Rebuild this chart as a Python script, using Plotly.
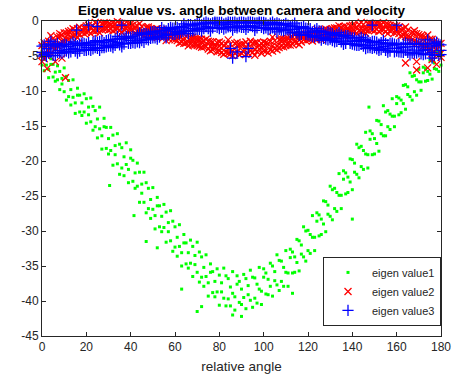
import plotly.graph_objects as go

# x tick labels (relative angle, degrees) and y tick labels (eigen value)
x_ticks = [0, 20, 40, 60, 80, 100, 120, 140, 160, 180]
y_ticks = [-45, -40, -35, -30, -25, -20, -15, -10, -5, 0]

# eigen value1: angle -> eigen values sampled at that angle
eig1_cols = [
    (0, [-4.5, -6.3]), (1, [-7.1, -5.5]), (2, [-4.5, -6.3]), (3, [-6.9, -8.1]),
    (4, [-6.2, -5.4]), (5, [-8.0, -6.2]), (6, [-7.3, -8.6]), (7, [-6.4, -8.4]),
    (8, [-9.8, -7.2]), (9, [-8.2, -9.0]), (10, [-10.1, -6.7]), (11, [-7.9, -11.3]),
    (12, [-8.5, -10.8]), (13, [-12.0, -9.8]), (14, [-8.4, -10.9]), (15, [-11.7, -13.2]),
    (16, [-10.6, -9.6]), (17, [-13.0, -10.6]), (18, [-11.7, -13.5]), (19, [-10.4, -13.0]),
    (20, [-14.6, -11.1]), (21, [-12.3, -13.4]), (22, [-14.4, -11.0]), (23, [-12.2, -15.6]),
    (24, [-12.8, -15.1]), (25, [-16.7, -14.0]), (26, [-12.3, -15.4]), (27, [-16.4, -18.3]),
    (28, [-15.1, -13.9]), (29, [-18.2, -15.2]), (30, [-16.8, -19.0]), (31, [-15.2, -18.5]),
    (32, [-20.6, -16.3]), (33, [-17.8, -19.1]), (34, [-20.4, -16.1]), (35, [-17.6, -21.9]),
    (36, [-18.1, -21.0]), (37, [-22.1, -19.4]), (38, [-17.4, -20.5]), (39, [-21.2, -23.1]),
    (40, [-19.6, -18.4]), (41, [-22.9, -19.9]), (42, [-21.7, -23.9]), (43, [-20.3, -23.6]),
    (44, [-25.9, -21.6]), (45, [-23.3, -24.6]), (46, [-25.9, -21.6]), (47, [-23.1, -27.4]),
    (48, [-23.9, -26.8]), (49, [-28.2, -25.5]), (50, [-23.8, -26.9]), (51, [-27.8, -29.7]),
    (52, [-26.4, -25.2]), (53, [-29.4, -26.4]), (54, [-27.9, -30.1]), (55, [-26.2, -29.5]),
    (56, [-31.6, -27.3]), (57, [-28.8, -30.1]), (58, [-31.4, -27.1]), (59, [-28.6, -32.9]),
    (60, [-29.4, -32.3]), (61, [-33.6, -30.9]), (62, [-29.1, -32.2]), (63, [-33.1, -35.0]),
    (64, [-31.7, -30.5]), (65, [-34.7, -31.7]), (66, [-33.1, -35.3]), (67, [-31.3, -34.6]),
    (68, [-36.5, -32.2]), (69, [-33.5, -34.8]), (70, [-35.9, -31.6]), (71, [-33.0, -37.3]),
    (72, [-33.7, -36.6]), (73, [-37.9, -35.2]), (74, [-33.4, -36.5]), (75, [-37.4, -39.3]),
    (76, [-35.9, -34.7]), (77, [-38.8, -35.8]), (78, [-37.2, -39.4]), (79, [-35.4, -38.7]),
    (80, [-40.6, -36.3]), (81, [-37.4, -38.7]), (82, [-39.6, -35.3]), (83, [-36.4, -40.7]),
    (84, [-36.8, -39.7]), (85, [-40.7, -38.0]), (86, [-35.8, -38.9]), (87, [-39.4, -41.3]),
    (88, [-37.6, -36.4]), (89, [-40.2, -37.2]), (90, [-38.3, -40.5]), (91, [-36.2, -39.5]),
    (92, [-41.1, -36.8]), (93, [-37.8, -39.1]), (94, [-39.9, -35.6]), (95, [-36.6, -40.9]),
    (96, [-36.7, -39.6]), (97, [-40.3, -37.6]), (98, [-35.2, -38.3]), (99, [-38.6, -40.5]),
    (100, [-36.6, -35.4]), (101, [-39.0, -36.0]), (102, [-36.9, -39.1]), (103, [-34.6, -37.9]),
    (104, [-39.3, -35.0]), (105, [-35.8, -37.1]), (106, [-37.7, -33.4]), (107, [-34.2, -38.5]),
    (108, [-34.3, -37.2]), (109, [-37.9, -35.2]), (110, [-32.8, -35.9]), (111, [-36.0, -37.9]),
    (112, [-33.8, -32.6]), (113, [-36.0, -33.0]), (114, [-33.7, -35.9]), (115, [-31.2, -34.5]),
    (116, [-35.7, -31.4]), (117, [-32.0, -33.3]), (118, [-33.7, -29.4]), (119, [-30.0, -34.3]),
    (120, [-29.9, -32.8]), (121, [-33.2, -30.5]), (122, [-27.8, -30.9]), (123, [-30.9, -32.8]),
    (124, [-28.6, -27.4]), (125, [-30.7, -27.7]), (126, [-28.3, -30.5]), (127, [-25.7, -29.0]),
    (128, [-30.1, -25.8]), (129, [-26.3, -27.6]), (130, [-27.9, -23.6]), (131, [-24.1, -28.4]),
    (132, [-23.9, -26.8]), (133, [-27.2, -24.5]), (134, [-21.8, -24.9]), (135, [-24.9, -26.8]),
    (136, [-22.6, -21.4]), (137, [-24.7, -21.7]), (138, [-22.3, -24.5]), (139, [-19.7, -23.0]),
    (140, [-24.1, -19.8]), (141, [-20.3, -21.6]), (142, [-21.9, -17.6]), (143, [-18.1, -22.4]),
    (144, [-17.9, -20.8]), (145, [-21.2, -18.5]), (146, [-15.9, -19.0]), (147, [-19.1, -21.0]),
    (148, [-16.9, -15.7]), (149, [-19.1, -16.1]), (150, [-16.8, -19.0]), (151, [-14.2, -17.5]),
    (152, [-18.6, -14.3]), (153, [-14.8, -16.1]), (154, [-16.4, -12.1]), (155, [-13.0, -16.4]),
    (156, [-12.8, -15.1]), (157, [-15.5, -13.3]), (158, [-11.1, -13.6]), (159, [-13.6, -15.1]),
    (160, [-11.8, -10.8]), (161, [-13.4, -11.0]), (162, [-11.3, -13.1]), (163, [-9.2, -11.8]),
    (164, [-12.6, -9.1]), (165, [-9.4, -10.5]), (166, [-10.8, -7.4]), (167, [-7.9, -11.3]),
    (168, [-7.8, -10.1]), (169, [-10.6, -8.4]), (170, [-6.9, -8.7]), (171, [-8.7, -9.9]),
    (172, [-7.4, -6.6]), (173, [-8.6, -6.8]), (174, [-7.2, -8.5]), (175, [-5.6, -7.6]),
    (176, [-8.3, -5.7]), (177, [-6.0, -6.8]), (178, [-6.9, -4.4]), (179, [-4.7, -7.2]),
    (180, [-4.5, -6.3]),
    (30.5, [-23.5]), (41.5, [-27.8]), (47, [-31.5]), (52, [-32.4]), (63, [-38.3]),
    (70, [-41.5]), (72, [-40.8]), (86, [-42.0]), (90, [-42.2]), (113, [-38.9]),
    (140, [-28.3]), (147.5, [-12.3]),
]

# eigen value2
eig2_cols = [
    (0, [-3.5, -4.9, -5.8]), (2, [-4.9, -3.5]), (4, [-2.1, -3.6, -4.6]), (6, [-3.4, -4.0]),
    (8, [-2.2, -1.8, -3.3]), (10, [-2.9, -1.7]), (12, [-1.9, -2.6, -1.5]), (14, [-1.1, -2.1]),
    (16, [-2.4, -1.1, -1.8]), (18, [-1.2, -1.6]), (20, [-0.7, -1.6, -1.1]), (22, [-1.8, -0.9]),
    (24, [-0.2, -1.1, -1.5]), (26, [-1.2, -1.7]), (28, [-0.55, -0.25, -1.1]), (30, [-1.3, -0.4]),
    (32, [-0.7, -1.4, -0.3]), (34, [-0.1, -1.1]), (36, [-1.65, -0.35, -0.9]), (38, [-0.7, -1.1]),
    (40, [-0.4, -1.3, -0.8]), (42, [-1.7, -0.8]), (44, [-0.35, -1.25, -1.7]), (46, [-1.6, -2.1]),
    (48, [-1.15, -0.85, -1.8]), (50, [-2.1, -1.2]), (52, [-1.65, -2.35, -1.1]), (54, [-1.2, -2.2]),
    (56, [-2.8, -1.5, -2.2]), (58, [-1.95, -2.35]), (60, [-1.8, -2.7, -2.2]), (62, [-3.15, -2.25]),
    (64, [-1.8, -2.7, -3.2]), (66, [-3.05, -3.55]), (68, [-2.6, -2.3, -3.4]), (70, [-3.5, -2.6]),
    (72, [-3.05, -3.75, -2.6]), (74, [-2.6, -3.6]), (76, [-4.25, -2.95, -3.6]), (78, [-3.4, -3.8]),
    (80, [-3.0, -4.3, -3.6]), (82, [-4.75, -3.5]), (84, [-2.7, -3.95, -4.6]), (86, [-4.25, -4.95]),
    (88, [-3.5, -3.05, -4.4]), (90, [-4.6, -3.35]), (92, [-3.75, -4.75, -3.0]), (94, [-2.9, -4.3]),
    (96, [-4.9, -3.1, -4.0]), (98, [-3.5, -4.0]), (100, [-3.0, -4.25, -3.6]), (102, [-4.55, -3.25]),
    (104, [-2.3, -3.55, -4.3]), (106, [-3.6, -4.1]), (108, [-2.85, -2.55, -3.6]), (110, [-3.5, -2.6]),
    (112, [-2.75, -3.45, -2.3]), (114, [-2.0, -3.0]), (116, [-3.4, -2.1, -2.7]), (118, [-2.25, -2.65]),
    (120, [-1.8, -2.7, -2.2]), (122, [-2.85, -1.95]), (124, [-1.2, -2.1, -2.6]), (126, [-2.15, -2.65]),
    (128, [-1.45, -1.15, -2.1]), (130, [-2.1, -1.2]), (132, [-1.4, -2.1, -1.0]), (134, [-0.7, -1.7]),
    (136, [-2.1, -0.8, -1.4]), (138, [-1.0, -1.4]), (140, [-0.6, -1.5, -1.0]), (142, [-1.75, -0.85]),
    (144, [-0.2, -1.1, -1.5]), (146, [-1.25, -1.75]), (148, [-0.6, -0.3, -1.2]), (150, [-1.4, -0.5]),
    (152, [-0.8, -1.5, -0.4]), (154, [-0.25, -1.25]), (156, [-1.8, -0.5, -1.2]), (158, [-0.9, -1.3]),
    (160, [-0.7, -1.6, -1.2]), (162, [-2.1, -1.2]), (164, [-0.85, -1.75, -2.2]), (166, [-2.3, -2.95]),
    (168, [-1.8, -1.4, -2.8]), (170, [-3.15, -1.95]), (172, [-2.65, -3.6, -2.2]), (174, [-2.0, -3.6]),
    (176, [-4.7, -2.6, -3.6]), (178, [-3.4, -4.0]), (180, [-3.2, -4.6, -5.2]),
    (1, [-3.1, -4.6]), (3, [-4.2, -2.9]), (5, [-3.6, -2.5]), (7, [-2.3, -3.5]),
    (9, [-2.9, -2.0]), (11, [-1.7, -2.6]), (13, [-2.3, -1.4]), (15, [-1.3, -2.0]),
    (17, [-1.9, -0.9]), (19, [-1.0, -1.8]), (21, [-1.5, -0.6]), (23, [-0.7, -1.4]),
    (25, [-1.3, -0.5]), (27, [-0.4, -1.2]), (29, [-1.1, -0.3]), (31, [-0.5, -1.2]),
    (33, [-1.2, -0.4]), (35, [-0.3, -1.3]), (37, [-1.2, -0.5]), (39, [-0.4, -1.4]),
    (41, [-1.3, -0.6]), (43, [-0.7, -1.5]), (45, [-1.6, -0.8]), (47, [-0.9, -1.8]),
    (49, [-1.9, -1.1]), (51, [-1.2, -2.1]), (53, [-2.2, -1.4]), (55, [-1.5, -2.3]),
    (57, [-2.5, -1.6]), (59, [-1.8, -2.6]), (61, [-2.8, -1.9]), (63, [-2.0, -3.0]),
    (65, [-3.1, -2.2]), (67, [-2.4, -3.3]), (69, [-3.4, -2.5]), (71, [-2.6, -3.6]),
    (73, [-3.7, -2.8]), (75, [-2.9, -4.0]), (77, [-4.1, -3.0]), (79, [-3.1, -4.4]),
    (81, [-4.5, -3.2]), (83, [-3.3, -4.5]), (85, [-4.7, -3.3]), (87, [-3.2, -4.6]),
    (89, [-4.8, -3.4]), (91, [-3.3, -4.4]), (93, [-4.6, -3.4]), (95, [-3.2, -4.5]),
    (97, [-4.4, -3.1]), (99, [-3.2, -4.6]), (101, [-4.3, -3.1]), (103, [-2.9, -4.1]),
    (105, [-3.9, -2.8]), (107, [-2.7, -3.8]), (109, [-3.7, -2.6]), (111, [-2.5, -3.4]),
    (113, [-3.3, -2.3]), (115, [-2.2, -3.1]), (117, [-3.0, -2.1]), (119, [-1.9, -2.8]),
    (121, [-2.6, -1.8]), (123, [-1.6, -2.5]), (125, [-2.4, -1.5]), (127, [-1.3, -2.2]),
    (129, [-2.1, -1.3]), (131, [-1.1, -1.9]), (133, [-1.8, -1.0]), (135, [-0.9, -1.8]),
    (137, [-1.7, -0.8]), (139, [-0.7, -1.6]), (141, [-1.5, -0.6]), (143, [-0.5, -1.4]),
    (145, [-1.4, -0.5]), (147, [-0.4, -1.3]), (149, [-1.3, -0.4]), (151, [-0.4, -1.2]),
    (153, [-1.3, -0.5]), (155, [-0.5, -1.5]), (157, [-1.4, -0.6]), (159, [-0.7, -1.7]),
    (161, [-1.8, -0.9]), (163, [-1.1, -2.0]), (165, [-2.3, -1.3]), (167, [-1.6, -2.7]),
    (169, [-3.0, -1.8]), (171, [-2.1, -3.4]), (173, [-3.6, -2.3]), (175, [-2.6, -4.1]),
    (177, [-4.4, -2.9]), (179, [-3.2, -4.9]),
    (2.3, [-6.8]), (6, [-5.8]), (9, [-5.3]), (10.6, [-8.1]), (1, [-5.4]),
    (164, [-6.0]), (169, [-5.8, -7.0]), (174, [-6.7]), (178, [-6.2]), (176, [-5.5]),
]

# eigen value3
eig3_cols = [
    (0, [-5.0, -3.6, -4.5]), (2, [-3.95, -5.05]), (4, [-2.9, -4.5, -3.6]), (6, [-4.95, -3.4]),
    (8, [-3.7, -4.2, -4.6]), (10, [-3.3, -4.4]), (12, [-4.55, -3.65, -4.1]), (14, [-3.0, -3.9]),
    (16, [-4.1, -4.6, -3.5]), (18, [-3.45, -3.15]), (20, [-4.2, -3.3, -3.8]), (22, [-3.5, -4.2]),
    (24, [-2.8, -3.8, -3.3]), (26, [-4.2, -2.9]), (28, [-3.1, -3.5, -3.8]), (30, [-2.7, -3.6]),
    (32, [-3.8, -2.9, -3.3]), (34, [-2.2, -3.1]), (36, [-3.2, -3.7, -2.6]), (38, [-2.5, -2.2]),
    (40, [-3.2, -2.3, -2.8]), (42, [-2.45, -3.15]), (44, [-1.7, -2.7, -3.1]), (46, [-3.05, -1.75]),
    (48, [-1.9, -2.3, -2.7]), (50, [-1.5, -2.4]), (52, [-2.6, -1.7, -2.2]), (54, [-0.95, -1.85]),
    (56, [-1.9, -2.4, -1.4]), (58, [-1.2, -0.9]), (60, [-1.9, -1.0, -1.5]), (62, [-1.15, -1.85]),
    (64, [-0.4, -1.4, -0.9]), (66, [-1.8, -0.5]), (68, [-0.7, -1.1, -1.4]), (70, [-0.3, -1.2]),
    (72, [-1.45, -0.55, -1.0]), (74, [-0.15, -0.8]), (76, [-0.95, -1.45, -0.4]), (78, [-0.3, -0.15]),
    (80, [-1.1, -0.2, -0.6]), (82, [-0.45, -1.15]), (84, [-0.15, -0.85, -0.5]), (86, [-1.3, -0.2]),
    (88, [-0.3, -0.7, -1.0]), (90, [-0.15, -0.9]), (92, [-1.2, -0.3, -0.7]), (94, [-0.15, -0.65]),
    (96, [-0.85, -1.35, -0.3]), (98, [-0.3, -0.15]), (100, [-1.1, -0.2, -0.6]), (102, [-0.55, -1.25]),
    (104, [-0.15, -1.0, -0.5]), (106, [-1.55, -0.25]), (108, [-0.6, -1.0, -1.3]), (110, [-0.35, -1.25]),
    (112, [-1.7, -0.8, -1.2]), (114, [-0.3, -1.2]), (116, [-1.55, -2.05, -1.0]), (118, [-1.1, -0.8]),
    (120, [-2.0, -1.1, -1.6]), (122, [-1.55, -2.25]), (124, [-1.1, -2.1, -1.6]), (126, [-2.75, -1.45]),
    (128, [-1.9, -2.3, -2.6]), (130, [-1.7, -2.6]), (132, [-3.0, -2.1, -2.5]), (134, [-1.65, -2.55]),
    (136, [-2.85, -3.35, -2.2]), (138, [-2.4, -2.1]), (140, [-3.3, -2.4, -2.9]), (142, [-2.8, -3.5]),
    (144, [-2.35, -3.35, -2.9]), (146, [-3.95, -2.65]), (148, [-3.1, -3.5, -3.8]), (150, [-2.9, -3.8]),
    (152, [-4.2, -3.3, -3.8]), (154, [-2.75, -3.65]), (156, [-3.95, -4.45, -3.4]), (158, [-3.45, -3.15]),
    (160, [-4.3, -3.4, -3.9]), (162, [-3.75, -4.45]), (164, [-3.15, -4.15, -3.7]), (166, [-4.85, -3.3]),
    (168, [-3.65, -4.15, -4.6]), (170, [-3.3, -4.4]), (172, [-4.8, -3.7, -4.2]), (174, [-2.7, -4.1]),
    (176, [-4.5, -5.3, -3.6]), (178, [-3.5, -3.0]), (180, [-4.8, -3.4, -4.2]),
    (1, [-3.4, -4.8]), (3, [-4.6, -3.3]), (5, [-3.4, -4.9]), (7, [-4.5, -3.2]),
    (9, [-3.5, -4.6]), (11, [-4.3, -3.4]), (13, [-3.3, -4.4]), (15, [-4.3, -3.2]),
    (17, [-3.3, -4.3]), (19, [-4.2, -3.2]), (21, [-3.1, -4.1]), (23, [-4.0, -3.0]),
    (25, [-3.0, -3.9]), (27, [-3.8, -2.8]), (29, [-2.8, -3.7]), (31, [-3.6, -2.7]),
    (33, [-2.6, -3.5]), (35, [-3.4, -2.5]), (37, [-2.4, -3.3]), (39, [-3.2, -2.3]),
    (41, [-2.2, -3.1]), (43, [-3.0, -2.0]), (45, [-1.9, -2.8]), (47, [-2.6, -1.8]),
    (49, [-1.6, -2.5]), (51, [-2.4, -1.5]), (53, [-1.4, -2.3]), (55, [-2.1, -1.3]),
    (57, [-1.1, -2.0]), (59, [-1.9, -1.0]), (61, [-0.9, -1.7]), (63, [-1.6, -0.8]),
    (65, [-0.7, -1.5]), (67, [-1.4, -0.5]), (69, [-0.5, -1.3]), (71, [-1.2, -0.4]),
    (73, [-0.3, -1.1]), (75, [-1.1, -0.3]), (77, [-0.25, -1.0]), (79, [-0.9, -0.2]),
    (81, [-0.2, -0.9]), (83, [-1.0, -0.3]), (85, [-0.2, -0.8]), (87, [-0.9, -0.15]),
    (89, [-0.2, -0.8]), (91, [-0.9, -0.2]), (93, [-0.15, -0.9]), (95, [-0.8, -0.2]),
    (97, [-0.25, -1.0]), (99, [-0.9, -0.2]), (101, [-0.3, -1.0]), (103, [-1.1, -0.3]),
    (105, [-0.4, -1.2]), (107, [-1.2, -0.4]), (109, [-0.5, -1.4]), (111, [-1.3, -0.6]),
    (113, [-0.6, -1.6]), (115, [-1.7, -0.8]), (117, [-0.9, -1.9]), (119, [-1.9, -1.0]),
    (121, [-1.1, -2.1]), (123, [-2.3, -1.3]), (125, [-1.4, -2.4]), (127, [-2.5, -1.6]),
    (129, [-1.6, -2.7]), (131, [-2.8, -1.8]), (133, [-1.9, -2.9]), (135, [-3.0, -2.0]),
    (137, [-2.1, -3.2]), (139, [-3.2, -2.3]), (141, [-2.4, -3.4]), (143, [-3.5, -2.6]),
    (145, [-2.6, -3.6]), (147, [-3.8, -2.8]), (149, [-2.9, -3.9]), (151, [-4.0, -3.0]),
    (153, [-3.1, -4.1]), (155, [-4.2, -3.2]), (157, [-3.2, -4.3]), (159, [-4.4, -3.3]),
    (161, [-3.3, -4.4]), (163, [-4.5, -3.3]), (165, [-3.3, -4.5]), (167, [-4.6, -3.3]),
    (169, [-3.2, -4.6]), (171, [-4.7, -3.3]), (173, [-3.3, -4.7]), (175, [-4.8, -3.2]),
    (177, [-3.2, -4.9]), (179, [-4.9, -3.3]),
    (85, [-3.9]), (86, [-5.3]), (88, [-4.4]), (92, [-5.1]), (93, [-3.9]),
    (15.6, [-1.3]), (21, [-0.6]), (25, [-0.8]), (36, [-0.6]), (149, [-0.6]), (160, [-0.6]),
]


def expand(cols):
    xs, ys = [], []
    for angle, values in cols:
        for v in values:
            xs.append(angle)
            ys.append(v)
    return xs, ys


x1, y1 = expand(eig1_cols)
x2, y2 = expand(eig2_cols)
x3, y3 = expand(eig3_cols)

AXIS_COLOR = "#262626"
FONT = "Liberation Sans, Arial, Helvetica, sans-serif"

fig = go.Figure()
fig.add_trace(go.Scatter(
    x=x1, y=y1, mode="markers", name="eigen value1",
    marker=dict(symbol="square", size=3, color="#00ff00", line=dict(width=0)),
    cliponaxis=False,
))
fig.add_trace(go.Scatter(
    x=x2, y=y2, mode="markers", name="eigen value2",
    marker=dict(symbol="x-thin", size=7, color="#ff0000",
                line=dict(width=1.3, color="#ff0000")),
    cliponaxis=False,
))
fig.add_trace(go.Scatter(
    x=x3, y=y3, mode="markers", name="eigen value3",
    marker=dict(symbol="cross-thin", size=8, color="#0000ff",
                line=dict(width=1.3, color="#0000ff")),
    cliponaxis=False,
))

axis_common = dict(
    showgrid=False, zeroline=False,
    showline=True, linecolor=AXIS_COLOR, linewidth=1, mirror="ticks",
    ticks="inside", ticklen=4, tickcolor=AXIS_COLOR, tickwidth=1,
    tickfont=dict(family=FONT, size=12, color=AXIS_COLOR),
)

fig.update_layout(
    width=456, height=376,
    margin=dict(l=42, r=15, t=21, b=40, pad=0, autoexpand=False),
    paper_bgcolor="white", plot_bgcolor="white",
    font=dict(family=FONT, color=AXIS_COLOR),
    title=dict(
        text="<b>Eigen value vs. angle between camera and velocity</b>",
        font=dict(family=FONT, size=13.5, color="black"),
        x=0.5, xref="paper", xanchor="center",
        y=1 - 10 / 376, yref="container", yanchor="middle",
    ),
    xaxis=dict(
        range=[0, 180], tickvals=x_ticks, ticktext=[str(v) for v in x_ticks],
        title=dict(text="relative angle", standoff=8,
                   font=dict(family=FONT, size=13.5, color=AXIS_COLOR)),
        **axis_common,
    ),
    yaxis=dict(
        range=[-45, 0], tickvals=y_ticks, ticktext=[str(v) for v in y_ticks],
        **axis_common,
    ),
    legend=dict(
        x=1, xanchor="right", y=0.032, yanchor="bottom",
        bgcolor="white", bordercolor=AXIS_COLOR, borderwidth=1,
        font=dict(family=FONT, size=11, color=AXIS_COLOR),
        tracegroupgap=0, itemwidth=38,
    ),
    showlegend=True,
)

fig.write_html("out.html")
